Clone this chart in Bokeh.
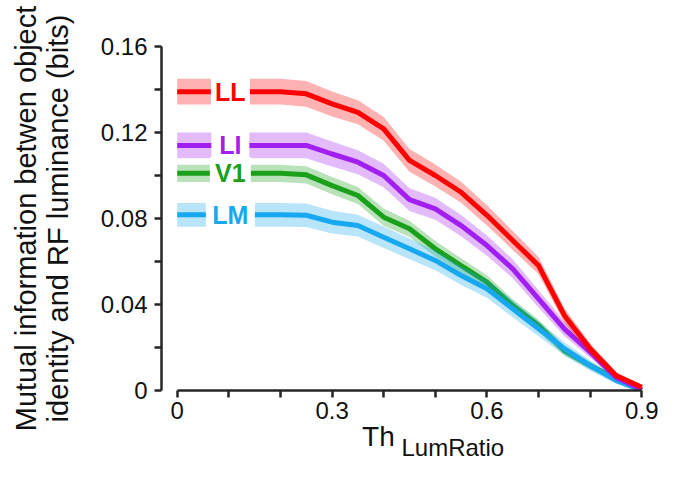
from bokeh.plotting import figure
from bokeh.models import FixedTicker, Range1d, NumeralTickFormatter, ColumnDataSource, LinearAxis
from bokeh.core.properties import value
from bokeh.embed import file_html
from bokeh.resources import INLINE

# ---- data ----
thresholds = [0.0, 0.05, 0.1, 0.15, 0.2, 0.25, 0.3, 0.35, 0.4, 0.45,
              0.5, 0.55, 0.6, 0.65, 0.7, 0.75, 0.8, 0.85, 0.9]

mi_V1 = [0.101, 0.101, 0.101, 0.101, 0.101, 0.1003, 0.0953, 0.0907, 0.0806, 0.0752,
         0.0659, 0.0581, 0.0504, 0.0395, 0.0302, 0.0186, 0.0116, 0.0054, 0.0]
err_V1 = [0.004, 0.004, 0.004, 0.004, 0.004, 0.004, 0.004, 0.004, 0.004, 0.0038,
          0.0036, 0.0034, 0.0032, 0.003, 0.0027, 0.0023, 0.0018, 0.0012, 0.0005]

mi_LM = [0.0817, 0.0817, 0.0817, 0.0817, 0.0817, 0.0815, 0.0783, 0.0767, 0.0713, 0.0659,
         0.0605, 0.0535, 0.0473, 0.038, 0.0287, 0.0194, 0.0116, 0.0047, 0.0]
err_LM = [0.0055, 0.0055, 0.0055, 0.0055, 0.0055, 0.0055, 0.0053, 0.0051, 0.005, 0.0048,
          0.0046, 0.0044, 0.0042, 0.0039, 0.0035, 0.003, 0.0024, 0.0016, 0.0006]

mi_LI = [0.114, 0.114, 0.114, 0.114, 0.114, 0.114, 0.110, 0.1062, 0.100, 0.0888,
         0.0845, 0.0767, 0.0674, 0.0566, 0.0426, 0.0287, 0.0178, 0.0062, 0.0005]
err_LI = [0.006, 0.006, 0.006, 0.006, 0.006, 0.006, 0.0058, 0.0056, 0.0055, 0.0053,
          0.0051, 0.0049, 0.0047, 0.0044, 0.004, 0.0034, 0.0026, 0.0016, 0.0006]

mi_LL = [0.139, 0.139, 0.139, 0.139, 0.139, 0.138, 0.1333, 0.1294, 0.1217, 0.107,
         0.100, 0.0922, 0.0815, 0.0698, 0.0581, 0.0349, 0.0194, 0.007, 0.0015]
err_LL = [0.006, 0.006, 0.006, 0.006, 0.006, 0.006, 0.0058, 0.0056, 0.0055, 0.0053,
          0.0051, 0.0049, 0.0047, 0.0044, 0.004, 0.0034, 0.0026, 0.0016, 0.0006]

areas = ["V1", "LM", "LI", "LL"]
area_values = [mi_V1, mi_LM, mi_LI, mi_LL]
area_errors = [err_V1, err_LM, err_LI, err_LL]
area_colors = ["#1aa01a", "#18a8f2", "#a11ff0", "#ff0000"]
label_x = 0.103
label_box_widths = [41, 49, 38, 39]

y_ticks = [0, 0.04, 0.08, 0.12, 0.16]
y_minor = [0.02, 0.06, 0.10, 0.14]
x_ticks = [0, 0.3, 0.6, 0.9]
x_minor = [0.1, 0.2, 0.4, 0.5, 0.7, 0.8]

FONT = "Liberation Sans"
AX = "#262626"
TXT = "#111111"
NB = "\u00a0"

p = figure(width=665, height=471, frame_width=496, frame_height=344,
           min_border_left=161, min_border_top=46, min_border_right=8, min_border_bottom=10,
           output_backend="svg", toolbar_location=None,
           x_range=Range1d(-0.0304, 0.9304), y_range=Range1d(0, 0.16))
p.outline_line_color = None
p.xgrid.visible = False
p.ygrid.visible = False
p.background_fill_color = "white"
p.border_fill_color = "white"

for name, vals, errs, col in zip(areas, area_values, area_errors, area_colors):
    lo = [v - e for v, e in zip(vals, errs)]
    hi = [v + e for v, e in zip(vals, errs)]
    p.varea(x=thresholds, y1=lo, y2=hi, fill_color=col, fill_alpha=0.3)
    p.line(x=thresholds, y=vals, line_color=col, line_width=5)

# series labels on white boxes
lab_src = ColumnDataSource(dict(
    x=[label_x] * len(areas),
    y=[v[0] for v in area_values],
    text=areas,
    color=area_colors,
    w=label_box_widths,
))
p.rect(x="x", y="y", width="w", height=32, width_units="screen", height_units="screen",
       source=lab_src, fill_color="white", line_color=None)
p.text(x="x", y="y", text="text", text_color="color", source=lab_src,
       text_font=value(FONT), text_font_style="bold", text_font_size="25px",
       text_align="center", text_baseline="middle")

# axes
for ax in (p.xaxis[0], p.yaxis[0]):
    ax.axis_line_width = 2.5
    ax.axis_line_color = AX
    ax.major_tick_line_width = 2.5
    ax.major_tick_line_color = AX
    ax.minor_tick_line_width = 2.5
    ax.minor_tick_line_color = AX
    ax.major_tick_in = 0
    ax.major_tick_out = 7
    ax.minor_tick_in = 0
    ax.minor_tick_out = 7
    ax.major_label_text_font = FONT
    ax.major_label_text_font_size = "24px"
    ax.major_label_text_color = TXT
    ax.formatter = NumeralTickFormatter(format="0.[00]")

p.yaxis.bounds = (0, 0.16)
p.yaxis.ticker = FixedTicker(ticks=y_ticks, minor_ticks=y_minor)
p.yaxis.major_label_standoff = 7
p.yaxis.axis_label = "Mutual information betwen object\nidentity and RF luminance (bits)"
p.yaxis.axis_label_text_font = FONT
p.yaxis.axis_label_text_font_style = "normal"
p.yaxis.axis_label_text_font_size = "29px"
p.yaxis.axis_label_text_line_height = 1.0
p.yaxis.axis_label_text_color = TXT
p.yaxis.axis_label_standoff = 24

p.xaxis.bounds = (0, 0.9)
p.xaxis.ticker = FixedTicker(ticks=x_ticks, minor_ticks=x_minor)
p.xaxis.major_label_standoff = 4
p.xaxis.axis_label = "Th" + NB * 8
p.xaxis.axis_label_text_font = FONT
p.xaxis.axis_label_text_font_style = "normal"
p.xaxis.axis_label_text_font_size = "28px"
p.xaxis.axis_label_text_color = TXT
p.xaxis.axis_label_standoff = -1

# subscript of the x title, on a bare second axis
sub_axis = LinearAxis(ticker=FixedTicker(ticks=[]), axis_line_color=None,
                      major_tick_line_color=None, minor_tick_line_color=None,
                      major_tick_out=0, minor_tick_out=0, major_label_text_font_size="0px",
                      axis_label=NB * 13 + "LumRatio", axis_label_text_font=FONT,
                      axis_label_text_font_style="normal", axis_label_text_font_size="24px",
                      axis_label_text_color=TXT, axis_label_standoff=-21)
p.add_layout(sub_axis, "below")

open("out.html", "w").write(file_html(p, INLINE))
